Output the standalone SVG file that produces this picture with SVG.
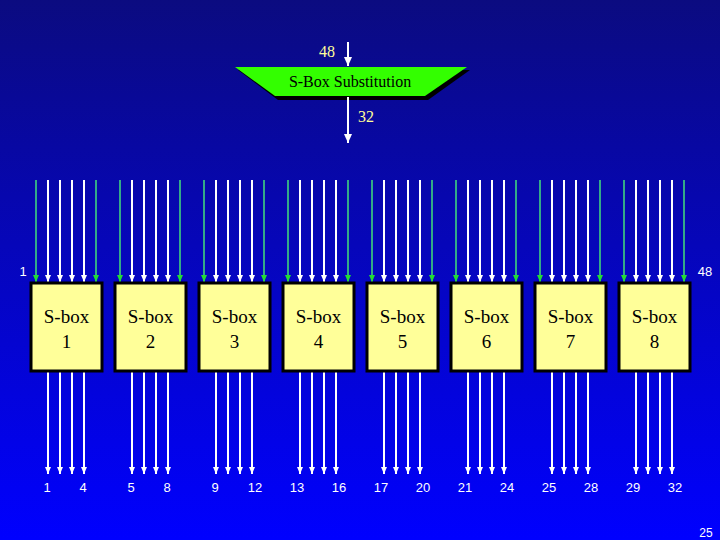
<svg xmlns="http://www.w3.org/2000/svg" width="720" height="540" viewBox="0 0 720 540">
<defs>
<linearGradient id="bg" x1="0" y1="0" x2="0" y2="1">
<stop offset="0" stop-color="#0b0b80"/>
<stop offset="1" stop-color="#0000ff"/>
</linearGradient>
<marker id="wh" viewBox="0 0 7 6" refX="7" refY="3" markerWidth="7" markerHeight="6" markerUnits="userSpaceOnUse" orient="auto">
<path d="M0,0 L7,3 L0,6 Z" fill="#ffffff"/>
</marker>
<marker id="gh" viewBox="0 0 7 6" refX="7" refY="3" markerWidth="7" markerHeight="6" markerUnits="userSpaceOnUse" orient="auto">
<path d="M0,0 L7,3 L0,6 Z" fill="#22dd33"/>
</marker>
<marker id="bh" viewBox="0 0 9 8" refX="9" refY="4" markerWidth="9" markerHeight="8" markerUnits="userSpaceOnUse" orient="auto">
<path d="M0,0 L9,4 L0,8 Z" fill="#ffffff"/>
</marker>
</defs>
<style>
.w{stroke:#ffffff;stroke-width:2;fill:none;marker-end:url(#wh)}
.g{stroke:#33aa88;stroke-width:2;fill:none;marker-end:url(#gh)}
.big{stroke:#ffffff;stroke-width:2;fill:none;marker-end:url(#bh)}
.box{fill:#ffff99;stroke:#000000;stroke-width:3}
.bt{font-family:"Liberation Serif",serif;font-size:19px;fill:#000000;text-anchor:middle}
.lab{font-family:"Liberation Sans",sans-serif;font-size:13px;fill:#ffffff;text-anchor:middle}
.yl{font-family:"Liberation Serif",serif;font-size:16px;fill:#ffff99;text-anchor:middle}
</style>
<rect x="0" y="0" width="720" height="540" fill="url(#bg)"/>
<g id="substitution">
<polygon points="238,70 470,70 428,100 278,100" fill="#000000"/>
<polygon points="235,67 467,67 425,96 275,96" fill="#33ff00"/>
<text x="350" y="87" font-family="Liberation Serif, serif" font-size="16" fill="#000000" text-anchor="middle">S-Box Substitution</text>
</g>
<g id="connectors">
<line class="big" x1="348" y1="42" x2="348" y2="66"/>
<line class="big" x1="348" y1="97" x2="348" y2="143"/>
<text class="yl" x="327" y="57">48</text>
<text class="yl" x="366" y="122">32</text>
<g id="inputs">
<line class="g" x1="36" y1="180" x2="36" y2="282"/><line class="w" x1="48" y1="180" x2="48" y2="282"/><line class="w" x1="60" y1="180" x2="60" y2="282"/><line class="w" x1="72" y1="180" x2="72" y2="282"/><line class="w" x1="84" y1="180" x2="84" y2="282"/><line class="g" x1="96" y1="180" x2="96" y2="282"/>
<line class="g" x1="120" y1="180" x2="120" y2="282"/><line class="w" x1="132" y1="180" x2="132" y2="282"/><line class="w" x1="144" y1="180" x2="144" y2="282"/><line class="w" x1="156" y1="180" x2="156" y2="282"/><line class="w" x1="168" y1="180" x2="168" y2="282"/><line class="g" x1="180" y1="180" x2="180" y2="282"/>
<line class="g" x1="204" y1="180" x2="204" y2="282"/><line class="w" x1="216" y1="180" x2="216" y2="282"/><line class="w" x1="228" y1="180" x2="228" y2="282"/><line class="w" x1="240" y1="180" x2="240" y2="282"/><line class="w" x1="252" y1="180" x2="252" y2="282"/><line class="g" x1="264" y1="180" x2="264" y2="282"/>
<line class="g" x1="288" y1="180" x2="288" y2="282"/><line class="w" x1="300" y1="180" x2="300" y2="282"/><line class="w" x1="312" y1="180" x2="312" y2="282"/><line class="w" x1="324" y1="180" x2="324" y2="282"/><line class="w" x1="336" y1="180" x2="336" y2="282"/><line class="g" x1="348" y1="180" x2="348" y2="282"/>
<line class="g" x1="372" y1="180" x2="372" y2="282"/><line class="w" x1="384" y1="180" x2="384" y2="282"/><line class="w" x1="396" y1="180" x2="396" y2="282"/><line class="w" x1="408" y1="180" x2="408" y2="282"/><line class="w" x1="420" y1="180" x2="420" y2="282"/><line class="g" x1="432" y1="180" x2="432" y2="282"/>
<line class="g" x1="456" y1="180" x2="456" y2="282"/><line class="w" x1="468" y1="180" x2="468" y2="282"/><line class="w" x1="480" y1="180" x2="480" y2="282"/><line class="w" x1="492" y1="180" x2="492" y2="282"/><line class="w" x1="504" y1="180" x2="504" y2="282"/><line class="g" x1="516" y1="180" x2="516" y2="282"/>
<line class="g" x1="540" y1="180" x2="540" y2="282"/><line class="w" x1="552" y1="180" x2="552" y2="282"/><line class="w" x1="564" y1="180" x2="564" y2="282"/><line class="w" x1="576" y1="180" x2="576" y2="282"/><line class="w" x1="588" y1="180" x2="588" y2="282"/><line class="g" x1="600" y1="180" x2="600" y2="282"/>
<line class="g" x1="624" y1="180" x2="624" y2="282"/><line class="w" x1="636" y1="180" x2="636" y2="282"/><line class="w" x1="648" y1="180" x2="648" y2="282"/><line class="w" x1="660" y1="180" x2="660" y2="282"/><line class="w" x1="672" y1="180" x2="672" y2="282"/><line class="g" x1="684" y1="180" x2="684" y2="282"/>
</g>
<g id="outputs">
<line class="w" x1="48" y1="372" x2="48" y2="474"/><line class="w" x1="60" y1="372" x2="60" y2="474"/><line class="w" x1="72" y1="372" x2="72" y2="474"/><line class="w" x1="84" y1="372" x2="84" y2="474"/>
<line class="w" x1="132" y1="372" x2="132" y2="474"/><line class="w" x1="144" y1="372" x2="144" y2="474"/><line class="w" x1="156" y1="372" x2="156" y2="474"/><line class="w" x1="168" y1="372" x2="168" y2="474"/>
<line class="w" x1="216" y1="372" x2="216" y2="474"/><line class="w" x1="228" y1="372" x2="228" y2="474"/><line class="w" x1="240" y1="372" x2="240" y2="474"/><line class="w" x1="252" y1="372" x2="252" y2="474"/>
<line class="w" x1="300" y1="372" x2="300" y2="474"/><line class="w" x1="312" y1="372" x2="312" y2="474"/><line class="w" x1="324" y1="372" x2="324" y2="474"/><line class="w" x1="336" y1="372" x2="336" y2="474"/>
<line class="w" x1="384" y1="372" x2="384" y2="474"/><line class="w" x1="396" y1="372" x2="396" y2="474"/><line class="w" x1="408" y1="372" x2="408" y2="474"/><line class="w" x1="420" y1="372" x2="420" y2="474"/>
<line class="w" x1="468" y1="372" x2="468" y2="474"/><line class="w" x1="480" y1="372" x2="480" y2="474"/><line class="w" x1="492" y1="372" x2="492" y2="474"/><line class="w" x1="504" y1="372" x2="504" y2="474"/>
<line class="w" x1="552" y1="372" x2="552" y2="474"/><line class="w" x1="564" y1="372" x2="564" y2="474"/><line class="w" x1="576" y1="372" x2="576" y2="474"/><line class="w" x1="588" y1="372" x2="588" y2="474"/>
<line class="w" x1="636" y1="372" x2="636" y2="474"/><line class="w" x1="648" y1="372" x2="648" y2="474"/><line class="w" x1="660" y1="372" x2="660" y2="474"/><line class="w" x1="672" y1="372" x2="672" y2="474"/>
</g>
</g>
<g id="sbox1"><rect class="box" x="31" y="283" width="71" height="88"/><text class="bt" x="66.5" y="323">S-box</text><text class="bt" x="66.5" y="348">1</text></g>
<g id="sbox2"><rect class="box" x="115" y="283" width="71" height="88"/><text class="bt" x="150.5" y="323">S-box</text><text class="bt" x="150.5" y="348">2</text></g>
<g id="sbox3"><rect class="box" x="199" y="283" width="71" height="88"/><text class="bt" x="234.5" y="323">S-box</text><text class="bt" x="234.5" y="348">3</text></g>
<g id="sbox4"><rect class="box" x="283" y="283" width="71" height="88"/><text class="bt" x="318.5" y="323">S-box</text><text class="bt" x="318.5" y="348">4</text></g>
<g id="sbox5"><rect class="box" x="367" y="283" width="71" height="88"/><text class="bt" x="402.5" y="323">S-box</text><text class="bt" x="402.5" y="348">5</text></g>
<g id="sbox6"><rect class="box" x="451" y="283" width="71" height="88"/><text class="bt" x="486.5" y="323">S-box</text><text class="bt" x="486.5" y="348">6</text></g>
<g id="sbox7"><rect class="box" x="535" y="283" width="71" height="88"/><text class="bt" x="570.5" y="323">S-box</text><text class="bt" x="570.5" y="348">7</text></g>
<g id="sbox8"><rect class="box" x="619" y="283" width="71" height="88"/><text class="bt" x="654.5" y="323">S-box</text><text class="bt" x="654.5" y="348">8</text></g>
<g id="labels">
<text class="lab" x="23" y="276">1</text>
<text class="lab" x="705" y="276">48</text>
<text class="lab" x="47" y="492">1</text><text class="lab" x="83" y="492">4</text>
<text class="lab" x="131" y="492">5</text><text class="lab" x="167" y="492">8</text>
<text class="lab" x="215" y="492">9</text><text class="lab" x="255" y="492">12</text>
<text class="lab" x="297" y="492">13</text><text class="lab" x="339" y="492">16</text>
<text class="lab" x="381" y="492">17</text><text class="lab" x="423" y="492">20</text>
<text class="lab" x="465" y="492">21</text><text class="lab" x="507" y="492">24</text>
<text class="lab" x="549" y="492">25</text><text class="lab" x="591" y="492">28</text>
<text class="lab" x="633" y="492">29</text><text class="lab" x="675" y="492">32</text>
<text x="706" y="537" font-family="Liberation Sans, sans-serif" font-size="12" fill="#ffffff" text-anchor="middle">25</text>
</g>
</svg>
